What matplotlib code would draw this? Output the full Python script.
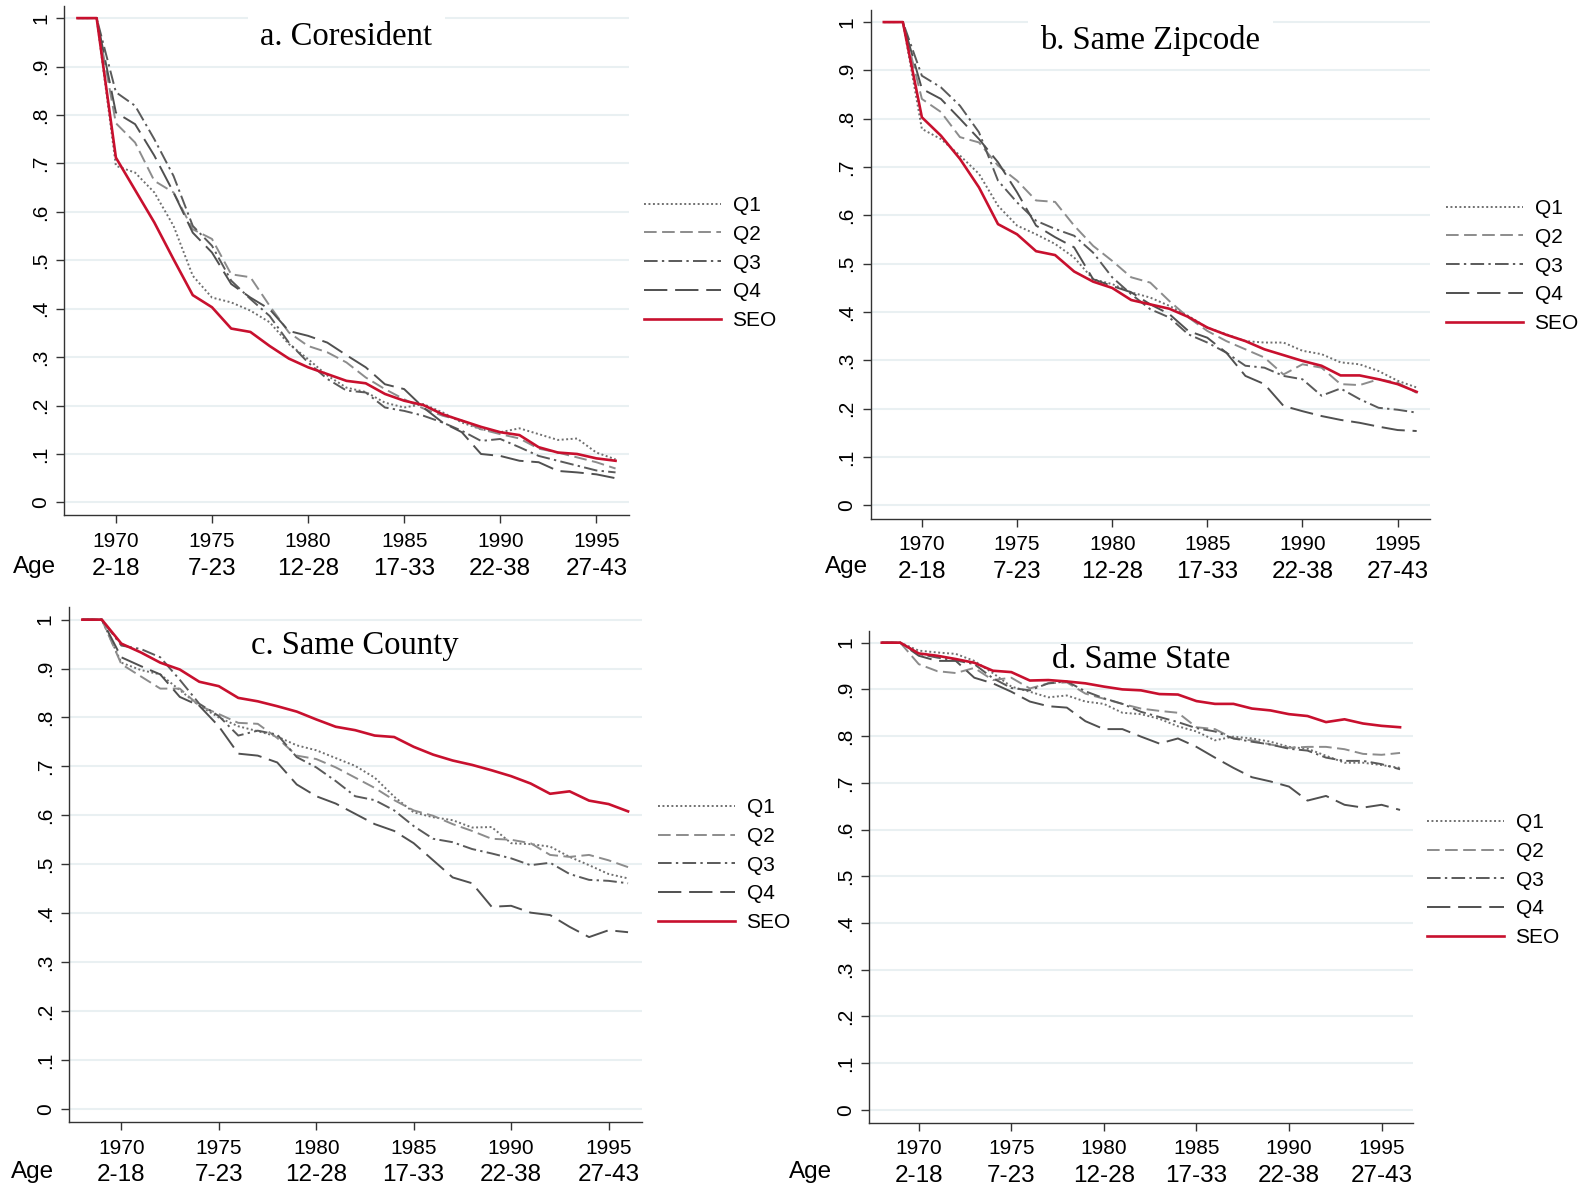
import matplotlib
matplotlib.use("Agg")
import matplotlib.pyplot as plt
from matplotlib.lines import Line2D

plt.rcParams["font.family"] = ["Liberation Sans", "DejaVu Sans"]

years = list(range(1968, 1997))
tick_years = [1970, 1975, 1980, 1985, 1990, 1995]
age_labels = ["2-18", "7-23", "12-28", "17-33", "22-38", "27-43"]
ytick_vals = [0, .1, .2, .3, .4, .5, .6, .7, .8, .9, 1]
ytick_labels = ["0", ".1", ".2", ".3", ".4", ".5", ".6", ".7", ".8", ".9", "1"]
series_names = ["Q1", "Q2", "Q3", "Q4", "SEO"]
titles = ["a. Coresident", "b. Same Zipcode", "c. Same County", "d. Same State"]

# a. Coresident
q1_a = [1, 1, .695, .681, .640, .571, .468, .423, .413, .396, .372, .327, .296, .262, .237, .228,
        .206, .196, .203, .186, .165, .151, .145, .153, .141, .129, .132, .103, .089]
q2_a = [1, 1, .783, .743, .664, .640, .564, .544, .471, .465, .406, .351, .323, .310, .289, .258,
        .234, .213, .194, .179, .169, .151, .141, .132, .111, .103, .093, .083, .070]
q3_a = [1, 1, .847, .819, .750, .674, .571, .530, .458, .420, .385, .330, .289, .255, .231, .227,
        .196, .189, .179, .165, .148, .127, .131, .114, .096, .086, .076, .066, .062]
q4_a = [1, 1, .805, .781, .716, .640, .557, .516, .451, .423, .399, .354, .344, .330, .304, .279,
        .244, .234, .196, .165, .145, .100, .096, .086, .083, .065, .062, .058, .050]
seo_a = [1, 1, .712, .645, .578, .502, .428, .403, .359, .352, .323, .297, .279, .265, .251, .246,
         .224, .210, .201, .182, .169, .156, .145, .139, .114, .103, .100, .091, .086]

# b. Same Zipcode
q1_b = [1, 1, .779, .758, .724, .686, .620, .579, .561, .541, .513, .468, .458, .441, .430, .413,
        .392, .368, .354, .340, .337, .337, .320, .313, .296, .292, .278, .258, .244]
q2_b = [1, 1, .841, .814, .762, .751, .703, .672, .631, .628, .579, .537, .506, .472, .461, .423,
        .389, .361, .340, .323, .306, .271, .292, .285, .251, .249, .261, .254, .233]
q3_b = [1, 1, .889, .865, .827, .772, .672, .627, .589, .572, .558, .523, .472, .437, .406, .389,
        .354, .337, .316, .289, .285, .268, .261, .227, .242, .220, .202, .198, .192]
q4_b = [1, 1, .862, .841, .800, .758, .710, .648, .579, .555, .534, .468, .454, .441, .416, .396,
        .361, .347, .316, .268, .251, .206, .195, .185, .177, .171, .163, .156, .154]
seo_b = [1, 1, .803, .765, .717, .658, .582, .561, .526, .518, .484, .463, .450, .425, .416, .407,
         .390, .368, .353, .340, .323, .311, .299, .289, .269, .269, .261, .251, .235]

# c. Same County
q1_c = [1, 1, .912, .897, .888, .856, .824, .800, .782, .772, .761, .743, .733, .717, .701, .677,
        .638, .606, .596, .590, .575, .576, .543, .541, .536, .515, .498, .480, .471]
q2_c = [1, 1, .909, .884, .859, .859, .824, .807, .789, .787, .758, .722, .715, .698, .677, .656,
        .631, .610, .599, .582, .568, .552, .550, .543, .519, .515, .519, .508, .494]
q3_c = [1, 1, .947, .940, .923, .877, .828, .803, .763, .773, .765, .719, .698, .670, .639, .631,
        .610, .578, .552, .545, .531, .522, .512, .498, .503, .480, .468, .466, .461]
q4_c = [1, 1, .923, .905, .888, .842, .824, .782, .726, .722, .708, .663, .639, .624, .603, .582,
        .568, .543, .508, .473, .461, .413, .415, .401, .396, .372, .351, .365, .361]
seo_c = [1, 1, .951, .933, .912, .898, .873, .864, .840, .833, .823, .812, .796, .781, .774, .763,
         .760, .740, .724, .712, .703, .692, .680, .665, .644, .649, .630, .623, .608]

# d. Same State
q1_d = [1, 1, .983, .979, .976, .961, .935, .906, .895, .883, .887, .874, .869, .850, .847, .837,
        .821, .810, .791, .799, .795, .788, .777, .773, .758, .743, .743, .738, .732]
q2_d = [1, 1, .954, .939, .935, .946, .920, .925, .902, .913, .915, .891, .880, .869, .859, .854,
        .850, .819, .815, .795, .791, .782, .775, .777, .777, .772, .762, .760, .764]
q3_d = [1, 1, .976, .968, .962, .954, .924, .903, .898, .913, .917, .896, .881, .869, .852, .841,
        .830, .817, .810, .795, .788, .782, .773, .769, .754, .747, .747, .740, .729]
q4_d = [1, 1, .972, .961, .961, .925, .913, .895, .874, .864, .861, .832, .815, .815, .799, .784,
        .795, .777, .754, .732, .712, .703, .692, .662, .672, .653, .647, .653, .642]
seo_d = [1, 1, .977, .972, .965, .957, .940, .937, .919, .920, .917, .913, .906, .900, .898, .890,
         .889, .875, .869, .869, .859, .855, .847, .843, .830, .836, .827, .822, .819]

panels = [
    [q1_a, q2_a, q3_a, q4_a, seo_a],
    [q1_b, q2_b, q3_b, q4_b, seo_b],
    [q1_c, q2_c, q3_c, q4_c, seo_c],
    [q1_d, q2_d, q3_d, q4_d, seo_d],
]

# line styles for Q1..Q4, SEO
colors = ["#707070", "#8c8c8c", "#5a5a5a", "#505050", "#c8102e"]
styles = [(0, (1, 1.3)), (0, (6.5, 2.8)), (0, (7, 2.2, 1.2, 2.2)), (0, (12, 4)), "-"]
widths = [1.4, 1.4, 1.4, 1.4, 1.9]

W, H = 1585, 1192
# axes boxes in pixels: left, top, right, bottom
boxes = [(64, 6, 629, 515.5), (870.5, 10, 1430, 518.5),
         (68.7, 607.4, 641.7, 1122), (868.8, 631, 1413, 1122.5)]
title_y = [0.940, 0.940, 0.925, 0.941]
title_box = [True, True, False, False]
legend_pos = [(644, 196), (1446, 199), (658, 798), (1427, 813)]
age_pos = [(35, 567), (847, 567), (33, 1172), (811, 1172)]

fig = plt.figure(figsize=(W / 100, H / 100), dpi=100)

for i in range(4):
    l, t, r, b = boxes[i]
    ax = fig.add_axes([l / W, 1 - b / H, (r - l) / W, (b - t) / H])
    for y in ytick_vals:
        ax.axhline(y, color="#e9f0f2", lw=1.5, zorder=0)
    handles = []
    for j in range(5):
        ax.plot(years, panels[i][j], color=colors[j], ls=styles[j], lw=widths[j], zorder=2 + (j == 4))
        handles.append(Line2D([0], [0], color=colors[j], ls=styles[j], lw=widths[j]))

    ax.set_xlim(1967.3, 1996.7)
    ax.set_ylim(-0.027, 1.025)
    ax.set_yticks(ytick_vals)
    ax.set_yticklabels(ytick_labels, rotation=90, va="center")
    ax.set_xticks(tick_years)
    ax.set_xticklabels([str(y) for y in tick_years])
    ax.tick_params(axis="both", length=6, width=1, color="#333333", labelsize=15, pad=4)
    ax.tick_params(axis="x", pad=6)
    for s in ["top", "right"]:
        ax.spines[s].set_visible(False)
    for s in ["left", "bottom"]:
        ax.spines[s].set_color("#333333")
        ax.spines[s].set_linewidth(1)

    for yr, ag in zip(tick_years, age_labels):
        ax.annotate(ag, xy=(yr, 0), xycoords=("data", "axes fraction"),
                    xytext=(0, -38.5), textcoords="offset points",
                    ha="center", va="center", fontsize=17.5)
    fig.text(age_pos[i][0] / W, 1 - age_pos[i][1] / H, "Age", ha="center", va="center", fontsize=17.5)

    bb = dict(facecolor="white", edgecolor="none", pad=9) if title_box[i] else None
    ax.text(0.5, title_y[i], titles[i], transform=ax.transAxes, ha="center", va="center",
            fontsize=23.5, family="Liberation Serif", bbox=bb, zorder=4)

    ax.legend(handles, series_names, loc="upper left",
              bbox_to_anchor=(legend_pos[i][0] / W, 1 - legend_pos[i][1] / H),
              bbox_transform=fig.transFigure, frameon=False, borderpad=0, borderaxespad=0,
              handlelength=3.7, handletextpad=0.55, labelspacing=0.47, fontsize=15)

fig.savefig("out.png", dpi=100)
